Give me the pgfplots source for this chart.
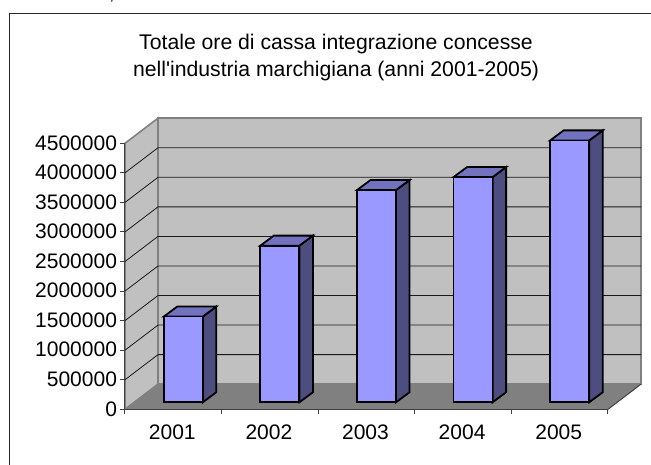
\documentclass[border=0pt]{standalone}
\usepackage{pgfplots}
\pgfplotsset{compat=1.18}
\usepackage{fontspec}
\setmainfont{Liberation Sans}
\definecolor{barfront}{RGB}{153,153,255}
\definecolor{bartop}{RGB}{114,114,191}
\definecolor{barside}{RGB}{77,77,128}
\definecolor{wall}{RGB}{192,192,192}
\definecolor{floorc}{RGB}{128,128,128}
\pgfplotstableread{
x val
0.5 1450000
1.5 2650000
2.5 3590000
3.5 3810000
4.5 4430000
}\hours
\begin{document}
\begin{tikzpicture}
% 1pt = 1px of the reference, origin at the front lower-left corner of the 3d box
\useasboundingbox (-125pt,-55.7pt) rectangle (526pt,409.3pt);
\draw[black!85,line width=1pt] (-115pt,-60pt) -- (-115pt,395.3pt) -- (530pt,395.3pt);
\node[anchor=base,font=\fontsize{20}{24}\selectfont,inner sep=0pt] at (-13pt,409.3pt) {,};
\begin{axis}[
    at={(0pt,0pt)},
    scale only axis,
    width=483pt,
    height=266pt,
    xmin=0, xmax=5,
    ymin=0, ymax=4500000,
    clip=false,
    axis on top,
    axis x line=bottom,
    axis y line=left,
    axis line style={-,black!75,line width=1pt},
    tick style={black!75,line width=1pt},
    tick align=outside,
    major tick length=4.5pt,
    xtick={0,1,2,3,4,5},
    xticklabels={2001,2002,2003,2004,2005},
    x tick label as interval,
    ytick={0,500000,1000000,1500000,2000000,2500000,3000000,3500000,4000000,4500000},
    scaled y ticks=false,
    /pgf/number format/fixed,
    /pgf/number format/1000 sep={},
    /pgf/number format/assume math mode=true,
    tick label style={font=\fontsize{21}{24}\selectfont},
    xticklabel style={yshift=-8pt,xshift=-1pt},
    yticklabel style={xshift=0pt,yshift=.5pt},
    title={Totale ore di cassa integrazione concesse\\nell\textquotesingle industria marchigiana (anni 2001-2005)},
    title style={at={(0.4369,1.39)},anchor=north,align=center,inner sep=0pt,yshift=0pt,
        font=\fontsize{21.2}{27}\selectfont},
]
% walls and floor
\addplot[fill=wall,draw=floorc,line width=1.6pt] coordinates {
    (0,0) (0,4500000) (0.3416,4925000) (0.3416,425000)} --cycle;
\addplot[fill=wall,draw=floorc,line width=1.6pt] coordinates {
    (0.3416,425000) (0.3416,4925000) (5.3416,4925000) (5.3416,425000)} --cycle;
\addplot[fill=floorc,draw=none] coordinates {
    (0,0) (0.3416,425000) (5.3416,425000) (5,0)} --cycle;
% right edge of the floor
\addplot[black!75,line width=1pt] coordinates {(5,0) (5.3416,425000)};
% gridlines
\pgfplotsinvokeforeach{500000,1000000,1500000,2000000,2500000,3000000,3500000,4000000}{
    \draw[black!90,line width=.8pt] (axis cs:0,#1) -- ++(33pt,25.1pt) -- ++(483pt,0pt);
}
% bars
\pgfplotsset{barface/.style={draw=black,line width=1.8pt,line join=miter,xshift=10pt,yshift=7pt}}
\addplot[barface,fill=barside] coordinates {(0.702,0) (0.702,1450000) (0.842,1620000) (0.842,170000)} --cycle;
\addplot[barface,fill=bartop] coordinates {(0.298,1450000) (0.702,1450000) (0.842,1620000) (0.438,1620000)} --cycle;
\addplot[barface,fill=barside] coordinates {(1.702,0) (1.702,2650000) (1.842,2820000) (1.842,170000)} --cycle;
\addplot[barface,fill=bartop] coordinates {(1.298,2650000) (1.702,2650000) (1.842,2820000) (1.438,2820000)} --cycle;
\addplot[barface,fill=barside] coordinates {(2.702,0) (2.702,3590000) (2.842,3760000) (2.842,170000)} --cycle;
\addplot[barface,fill=bartop] coordinates {(2.298,3590000) (2.702,3590000) (2.842,3760000) (2.438,3760000)} --cycle;
\addplot[barface,fill=barside] coordinates {(3.702,0) (3.702,3810000) (3.842,3980000) (3.842,170000)} --cycle;
\addplot[barface,fill=bartop] coordinates {(3.298,3810000) (3.702,3810000) (3.842,3980000) (3.438,3980000)} --cycle;
\addplot[barface,fill=barside] coordinates {(4.702,0) (4.702,4430000) (4.842,4600000) (4.842,170000)} --cycle;
\addplot[barface,fill=bartop] coordinates {(4.298,4430000) (4.702,4430000) (4.842,4600000) (4.438,4600000)} --cycle;
\addplot[ybar,bar width=39pt,barface,fill=barfront] table[x=x,y=val] {\hours};
\end{axis}
\end{tikzpicture}
\end{document}
